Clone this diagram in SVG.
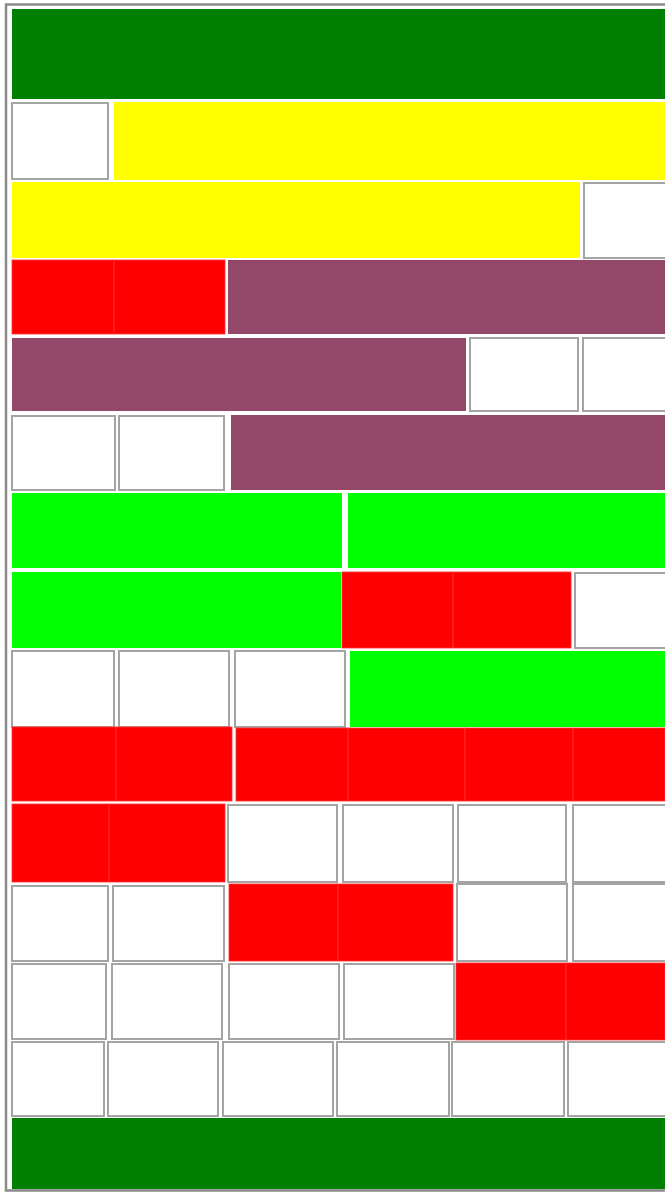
<svg xmlns="http://www.w3.org/2000/svg" width="665" height="1193" viewBox="0 0 665 1193">
<style>
.dg{fill:#008000}
.y{fill:#ffff00}
.r{fill:#ff0000;stroke:#ff3030;stroke-width:0.8}
.p{fill:#934769}
.g{fill:#00ff00}
.w{fill:#ffffff;stroke:#a4a4a4;stroke-width:2}
</style>
<rect x="0" y="0" width="665" height="1193" fill="#ffffff"/>
<rect x="6" y="4.5" width="700" height="1186" fill="#ffffff" stroke="#8a8a8a" stroke-width="2.5"/>
<g id="row0"><rect class="dg" x="12" y="9" width="653" height="90"/></g>
<g id="row1">
<rect class="w" x="12" y="103" width="96" height="76"/>
<rect class="y" x="114" y="102" width="551" height="78"/>
</g>
<g id="row2">
<rect class="y" x="12" y="182" width="568" height="76"/>
<rect class="w" x="584" y="183" width="82" height="75"/>
</g>
<g id="row3">
<rect class="r" x="12" y="260" width="102" height="74"/>
<rect class="r" x="114" y="260" width="111" height="74"/>
<rect class="p" x="228" y="260" width="437" height="74"/>
</g>
<g id="row4">
<rect class="p" x="12" y="338" width="454" height="73"/>
<rect class="w" x="470" y="338" width="108" height="73"/>
<rect class="w" x="583" y="338" width="83" height="73"/>
</g>
<g id="row5">
<rect class="w" x="12" y="416" width="103" height="74"/>
<rect class="w" x="119" y="416" width="105" height="74"/>
<rect class="p" x="231" y="415" width="434" height="75"/>
</g>
<g id="row6">
<rect class="g" x="12" y="493" width="330" height="75"/>
<rect class="g" x="348" y="493" width="317" height="75"/>
</g>
<g id="row7">
<rect class="g" x="12" y="572" width="329" height="76"/>
<rect class="r" x="342" y="572" width="111" height="76"/>
<rect class="r" x="453" y="572" width="118" height="76"/>
<rect class="w" x="575" y="573" width="91" height="75"/>
</g>
<g id="row8">
<rect class="w" x="12" y="651" width="102" height="76"/>
<rect class="w" x="119" y="651" width="110" height="76"/>
<rect class="w" x="235" y="651" width="110" height="76"/>
<rect class="g" x="350" y="651" width="315" height="76"/>
</g>
<g id="row9">
<rect class="r" x="12" y="727" width="104" height="74"/>
<rect class="r" x="116" y="727" width="116" height="74"/>
<rect class="r" x="236" y="728" width="112" height="73"/>
<rect class="r" x="348" y="728" width="117" height="73"/>
<rect class="r" x="465" y="728" width="108" height="73"/>
<rect class="r" x="573" y="728" width="92" height="73"/>
</g>
<g id="row10">
<rect class="r" x="12" y="804" width="97" height="78"/>
<rect class="r" x="109" y="804" width="116" height="78"/>
<rect class="w" x="228" y="805" width="109" height="77"/>
<rect class="w" x="343" y="805" width="110" height="77"/>
<rect class="w" x="458" y="805" width="108" height="77"/>
<rect class="w" x="573" y="805" width="93" height="77"/>
</g>
<g id="row11">
<rect class="w" x="12" y="886" width="96" height="75"/>
<rect class="w" x="113" y="886" width="111" height="75"/>
<rect class="r" x="229" y="884" width="109" height="77"/>
<rect class="r" x="338" y="884" width="115" height="77"/>
<rect class="w" x="457" y="884" width="110" height="77"/>
<rect class="w" x="573" y="884" width="93" height="77"/>
</g>
<g id="row12">
<rect class="w" x="12" y="964" width="94" height="75"/>
<rect class="w" x="112" y="964" width="110" height="75"/>
<rect class="w" x="229" y="964" width="110" height="75"/>
<rect class="w" x="344" y="964" width="110" height="75"/>
<rect class="r" x="456" y="963" width="110" height="77"/>
<rect class="r" x="566" y="963" width="99" height="77"/>
</g>
<g id="row13">
<rect class="w" x="12" y="1042" width="92" height="74"/>
<rect class="w" x="108" y="1042" width="110" height="74"/>
<rect class="w" x="223" y="1042" width="110" height="74"/>
<rect class="w" x="337" y="1042" width="112" height="74"/>
<rect class="w" x="452" y="1042" width="112" height="74"/>
<rect class="w" x="568" y="1042" width="98" height="74"/>
</g>
<g id="row14"><rect class="dg" x="12" y="1118" width="653" height="71"/></g>
</svg>
